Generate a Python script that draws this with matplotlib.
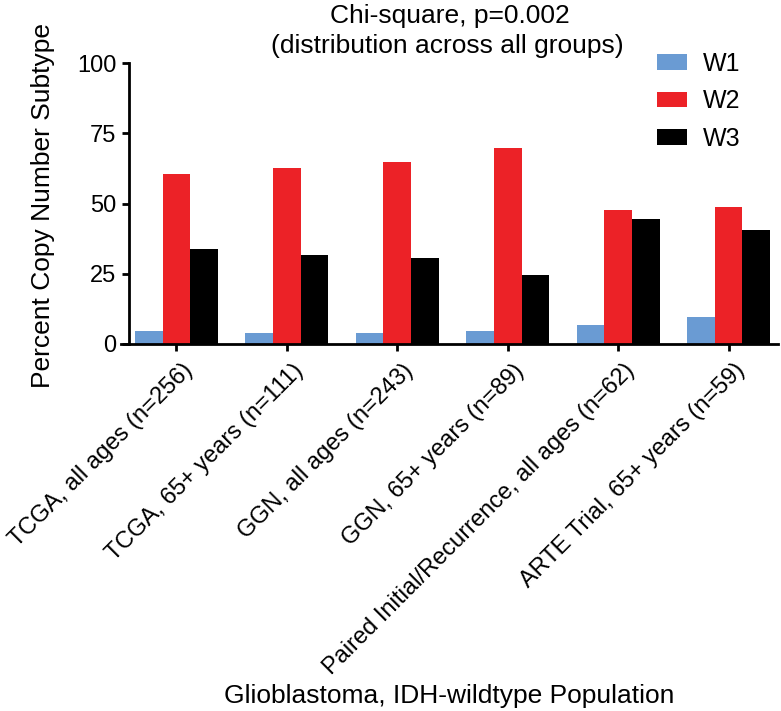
import matplotlib
matplotlib.use("Agg")
import matplotlib.pyplot as plt
import matplotlib.transforms as mtransforms
import numpy as np

categories = ["TCGA, all ages (n=256)", "TCGA, 65+ years (n=111)", "GGN, all ages (n=243)",
              "GGN, 65+ years (n=89)", "Paired Initial/Recurrence, all ages (n=62)",
              "ARTE Trial, 65+ years (n=59)"]
series_names = ["W1", "W2", "W3"]
w1 = [4.7, 3.8, 3.8, 4.6, 6.7, 9.6]
w2 = [60.7, 62.6, 64.7, 69.7, 47.7, 48.7]
w3 = [33.7, 31.6, 30.6, 24.6, 44.6, 40.6]
yticks = [0, 25, 50, 75, 100]

colors = ["#6A9BD3", "#EC2227", "#000000"]

plt.rcParams['font.family'] = ['Liberation Sans', 'DejaVu Sans']
W, H = 781, 711
fig = plt.figure(figsize=(W/100, H/100), dpi=100)

left_px, right_px = 120.7, 778
bottom_px, top_px = 344, 63.3
ax = fig.add_axes([left_px/W, 1 - bottom_px/H, (right_px-left_px)/W, (bottom_px-top_px)/H])

x = np.arange(len(categories))
bw = 0.25
for i, (vals, c, name) in enumerate(zip([w1, w2, w3], colors, series_names)):
    ax.bar(x + (i-1)*bw, vals, width=bw, color=c, label=name, linewidth=0)

ax.set_xlim(-0.505, 5.448)
ax.set_ylim(0, 100)
for s in ['top', 'right']:
    ax.spines[s].set_visible(False)
ax.spines['left'].set_position(('axes', 8.5/(right_px-left_px)))
for s in ['left', 'bottom']:
    ax.spines[s].set_linewidth(2.0)
ax.tick_params(width=2.0, length=5.2, labelsize=17)
ax.tick_params(axis='y', pad=4)
ax.set_yticks(yticks)
ax.set_xticks(x)
ax.set_xticklabels(categories, rotation=45, ha='right', va='top', rotation_mode='anchor')
ax.tick_params(axis='x', pad=6)
offset = mtransforms.ScaledTranslation(5/100, 0, fig.dpi_scale_trans)
for lab in ax.get_xticklabels():
    lab.set_transform(lab.get_transform() + offset)

fig.text(43/W, 1 - 206/H, "Percent Copy Number Subtype", rotation=90, ha='center', va='center', fontsize=19)
fig.text(449.5/W, 1 - 703/H, "Glioblastoma, IDH-wildtype Population", ha='center', va='baseline', fontsize=19)
fig.text(450/W, 1 - 22.7/H, "Chi-square, p=0.002", ha='center', va='baseline', fontsize=19)
fig.text(447.5/W, 1 - 53/H, "(distribution across all groups)", ha='center', va='baseline', fontsize=19)

leg = ax.legend(loc='upper left', bbox_to_anchor=(656.7/W, 1 - 52/H), bbox_transform=fig.transFigure,
                frameon=False, fontsize=18, handlelength=1.2, handleheight=0.57,
                handletextpad=0.63, labelspacing=0.54, borderpad=0, borderaxespad=0)

fig.savefig("out.png", dpi=100)
